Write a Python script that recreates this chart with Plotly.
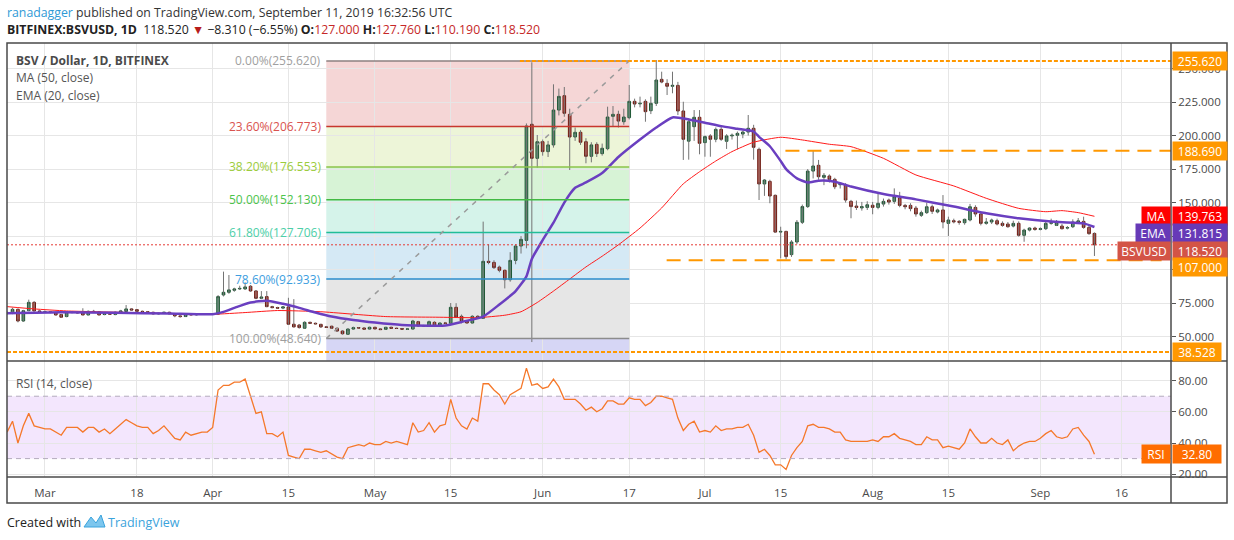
import plotly.graph_objects as go
import pandas as pd

# BITFINEX:BSVUSD daily candles (first candle 2019-02-22)
first_day = "2019-02-22"

opens = [
    67.5, 67.4, 70.4, 61.7, 69.4, 75.6, 69.2, 68.5, 68.6, 68.0,
    66.5, 65.0, 68.4, 68.0, 68.2, 66.2, 68.9, 68.5, 66.5, 67.0,
    66.5, 68.2, 68.8, 70.7, 70.2, 68.9, 68.6, 68.2, 67.0, 67.4,
    68.2, 67.0, 65.5, 65.0, 66.9, 66.3, 66.8, 66.9, 66.7, 66.8,
    81.1, 83.1, 84.6, 85.6, 85.6, 87.6, 84.1, 78.6, 79.9, 72.4,
    71.7, 71.3, 72.2, 59.3, 58.7, 56.3, 60.7, 60.0, 59.2, 57.3,
    57.8, 56.3, 54.2, 51.8, 55.7, 56.7, 56.5, 55.7, 57.0, 55.8,
    55.5, 57.0, 56.3, 56.1, 55.6, 55.7, 61.2, 58.0, 58.2, 60.7,
    57.7, 60.2, 60.0, 71.9, 65.2, 61.7, 60.2, 65.2, 63.7, 106.2,
    105.4, 101.9, 99.5, 92.5, 106.9, 117.6, 121.8, 208.4, 183.0, 195.4,
    188.0, 193.0, 219.0, 229.7, 215.8, 198.9, 202.4, 195.4, 184.5, 193.4,
    186.5, 190.2, 214.3, 215.8, 210.3, 213.3, 225.5, 223.6, 225.5, 218.5,
    224.0, 241.9, 238.9, 236.7, 237.4, 218.3, 195.8, 206.6, 213.6, 194.7,
    199.7, 197.2, 204.6, 195.7, 199.7, 200.2, 201.1, 202.6, 205.4, 189.7,
    163.9, 165.8, 155.4, 128.0, 128.5, 111.2, 120.6, 135.3, 147.0, 173.5,
    177.8, 168.8, 169.8, 167.3, 163.3, 163.3, 150.9, 147.4, 146.0, 146.4,
    148.0, 146.4, 148.9, 151.9, 150.9, 153.4, 147.9, 147.9, 145.9, 140.5,
    142.5, 146.9, 143.0, 144.5, 134.5, 136.5, 136.0, 135.0, 137.0, 146.4,
    141.5, 134.5, 135.5, 136.5, 134.5, 134.0, 132.5, 134.5, 125.6, 129.5,
    131.0, 130.0, 130.5, 134.5, 133.0, 132.5, 131.0, 132.0, 135.5, 136.0,
    131.5, 127.0,
]
highs = [
    69.0, 71.5, 71.0, 70.0, 77.6, 76.5, 69.8, 69.5, 69.0, 68.5,
    67.0, 68.8, 69.0, 68.5, 71.2, 69.5, 70.0, 69.0, 67.5, 67.5,
    68.8, 70.0, 73.6, 71.2, 70.6, 69.5, 69.0, 68.6, 67.8, 68.5,
    68.6, 67.3, 66.0, 67.5, 67.3, 67.2, 67.3, 67.5, 67.5, 81.0,
    98.5, 96.0, 86.5, 88.0, 90.5, 88.5, 84.8, 84.0, 84.0, 73.0,
    72.3, 72.5, 79.0, 78.0, 59.5, 61.5, 61.2, 60.5, 59.6, 58.0,
    58.2, 56.8, 54.8, 56.2, 57.5, 57.2, 57.0, 57.5, 57.4, 56.3,
    57.3, 57.5, 56.8, 56.5, 56.0, 62.5, 61.8, 58.8, 62.0, 61.5,
    60.6, 61.0, 75.1, 75.0, 66.5, 62.2, 66.0, 66.0, 135.8, 118.9,
    107.0, 103.0, 100.0, 113.0, 119.0, 125.0, 209.0, 254.6, 200.4, 197.0,
    196.0, 238.2, 235.0, 236.2, 220.0, 206.0, 204.0, 198.0, 195.0, 195.0,
    194.0, 221.5, 222.0, 218.5, 220.0, 237.7, 227.5, 229.0, 227.0, 229.0,
    256.3, 247.6, 242.0, 247.6, 240.0, 225.2, 213.0, 219.0, 219.0, 200.0,
    201.0, 206.0, 206.5, 201.0, 201.5, 203.0, 203.5, 215.3, 208.0, 191.0,
    167.5, 167.0, 156.0, 132.0, 129.0, 122.0, 137.0, 148.5, 175.0, 189.2,
    181.8, 172.0, 171.0, 168.5, 165.0, 164.5, 152.0, 151.5, 150.5, 151.0,
    150.5, 157.4, 153.0, 153.0, 160.6, 158.0, 149.0, 149.5, 147.5, 144.0,
    150.0, 148.5, 145.5, 155.6, 139.5, 138.0, 137.0, 138.0, 149.0, 148.0,
    143.0, 138.5, 138.0, 138.0, 136.0, 135.5, 136.5, 136.0, 130.5, 131.5,
    132.0, 131.5, 135.5, 138.0, 137.0, 134.0, 132.5, 137.5, 138.5, 139.5,
    133.0, 127.76,
]
lows = [
    66.5, 66.8, 60.7, 61.0, 69.0, 68.8, 68.0, 67.8, 67.5, 65.8,
    64.0, 64.5, 67.5, 67.2, 66.0, 66.0, 68.0, 66.0, 66.0, 66.3,
    66.0, 67.5, 68.5, 69.5, 68.5, 68.0, 67.8, 66.5, 66.5, 67.0,
    66.8, 64.5, 64.2, 64.8, 66.0, 65.8, 66.2, 66.4, 66.2, 66.5,
    80.0, 82.0, 83.5, 84.8, 85.0, 83.5, 78.0, 78.0, 72.0, 71.2,
    71.0, 70.5, 58.8, 56.8, 56.0, 56.0, 59.5, 59.2, 56.5, 56.6,
    55.8, 53.5, 51.5, 51.5, 55.2, 56.0, 55.2, 55.3, 55.5, 55.0,
    55.2, 56.0, 55.8, 55.3, 55.0, 55.3, 57.5, 57.4, 57.8, 57.2,
    57.3, 59.5, 59.5, 64.3, 60.0, 59.8, 59.8, 63.2, 63.2, 104.0,
    100.5, 98.0, 86.0, 91.0, 104.0, 112.0, 115.9, 46.0, 176.0, 185.0,
    184.0, 191.0, 215.0, 214.0, 174.3, 196.0, 193.0, 179.3, 180.0, 184.0,
    185.0, 189.0, 207.0, 206.0, 208.0, 212.0, 221.0, 221.0, 210.3, 216.0,
    222.0, 239.0, 230.2, 231.5, 215.3, 181.8, 182.0, 196.0, 186.0, 184.2,
    184.2, 195.0, 196.0, 190.0, 197.0, 189.7, 198.0, 200.0, 182.0, 151.9,
    155.0, 149.5, 127.5, 108.4, 107.7, 109.5, 119.0, 134.0, 146.0, 168.0,
    167.0, 163.0, 165.0, 160.0, 160.5, 150.0, 138.3, 144.5, 144.0, 144.5,
    141.3, 145.0, 147.0, 148.5, 149.0, 146.5, 145.0, 143.5, 139.5, 139.3,
    141.5, 141.5, 142.0, 130.8, 125.1, 134.5, 133.5, 133.5, 136.0, 139.5,
    133.0, 133.5, 134.0, 133.0, 132.0, 131.3, 131.5, 124.6, 120.8, 128.5,
    129.0, 129.3, 129.5, 133.5, 132.5, 130.0, 130.0, 131.0, 134.5, 130.5,
    126.0, 110.19,
]
closes = [
    68.0, 70.4, 61.7, 69.4, 75.6, 69.2, 68.5, 68.6, 68.0, 66.2,
    64.5, 68.4, 68.0, 67.8, 66.2, 68.9, 68.5, 66.2, 67.0, 66.8,
    68.2, 69.2, 70.7, 69.9, 68.9, 68.6, 68.2, 67.0, 67.4, 68.2,
    67.0, 65.5, 65.0, 66.9, 66.3, 66.8, 66.9, 66.7, 67.1, 79.9,
    83.1, 84.9, 85.6, 86.0, 87.1, 84.1, 78.6, 79.6, 72.4, 71.7,
    71.3, 72.2, 59.3, 57.3, 56.8, 60.7, 60.0, 59.6, 57.3, 57.0,
    56.3, 54.2, 52.2, 55.7, 56.7, 56.5, 55.6, 57.0, 55.8, 55.3,
    57.0, 56.3, 56.1, 55.6, 55.7, 61.7, 58.0, 58.2, 61.2, 57.7,
    60.2, 60.0, 71.9, 64.7, 61.7, 60.2, 65.2, 63.7, 106.2, 105.4,
    101.5, 99.5, 92.5, 106.9, 117.6, 122.6, 207.1, 183.0, 195.4, 188.0,
    193.0, 219.0, 229.2, 216.6, 198.9, 202.4, 195.0, 184.5, 193.0, 186.5,
    190.5, 213.8, 215.8, 210.8, 213.8, 225.5, 223.5, 224.0, 217.8, 224.0,
    241.4, 239.9, 236.7, 237.4, 218.3, 197.2, 210.3, 213.6, 194.2, 199.2,
    197.2, 204.6, 197.2, 199.7, 200.2, 201.6, 202.6, 205.4, 191.2, 163.9,
    166.8, 154.9, 128.0, 128.5, 109.7, 120.6, 135.3, 147.0, 173.5, 177.3,
    169.3, 170.3, 167.3, 161.8, 164.0, 151.9, 147.0, 146.4, 147.0, 148.4,
    146.4, 149.4, 150.9, 150.4, 154.4, 147.9, 146.9, 145.5, 141.5, 142.5,
    146.9, 143.5, 144.5, 135.5, 137.0, 135.7, 135.3, 137.5, 146.9, 141.5,
    134.5, 135.5, 137.0, 134.0, 133.0, 132.0, 134.5, 125.6, 129.5, 131.0,
    130.0, 130.5, 134.5, 135.0, 135.5, 130.5, 131.3, 135.5, 136.3, 131.5,
    126.83, 118.52,
]

# RSI (14, close), one value per candle
rsi = [
    47, 54, 40, 51, 59, 51, 50, 49, 49, 47,
    45, 50, 50, 50, 47, 50, 50, 47, 49, 46,
    49, 52, 55, 53, 51, 50, 50, 46, 48, 51,
    47, 43, 42, 47, 45, 46, 47, 47, 50, 74,
    77, 77, 79, 79, 81, 70, 59, 60, 46, 46,
    44, 47, 32, 31, 30, 36, 36, 35, 34, 35,
    33, 31, 30, 37, 38, 39, 38, 40, 39, 39,
    41, 40, 41, 40, 39, 53, 47, 48, 53, 47,
    51, 52, 68, 56, 51, 49, 56, 54, 78, 78,
    74, 71, 65, 71, 73, 75, 88, 77, 78, 75,
    76, 81, 76, 68, 68, 68, 65, 61, 63, 60,
    62, 67, 67, 65, 65, 69, 68, 68, 64, 66,
    70, 70, 69, 68, 56, 48, 52, 54, 47, 48,
    47, 51, 48, 49, 49, 50, 50, 52, 45, 34,
    36, 32, 26, 26, 23, 32, 37, 41, 51, 52,
    50, 50, 49, 47, 47, 42, 41, 41, 41, 41,
    42, 41, 44, 44, 46, 43, 42, 41, 39, 39,
    44, 42, 42, 37, 38, 37, 36, 40, 49, 44,
    40, 40, 43, 40, 39, 42, 35, 38, 40, 41,
    41, 43, 46, 48, 44, 43, 44, 49, 50, 45,
    41, 32.80,
]

# MA(50) and EMA(20) read at some candles (candle index, value)
ma_idx = [0, 5, 11, 23, 38, 44, 50, 58, 70, 80, 87, 92, 95, 98, 101, 104, 107, 110,
          113, 117, 121, 125, 128, 131, 134, 138, 143, 147, 152, 156, 162, 168, 175,
          181, 187, 192, 195, 198, 201]
ma_vals = [72.4, 70.7, 69.2, 68.0, 66.7, 68.0, 69.5, 68.6, 65.0, 64.5, 64.2, 66.0, 68.6,
           75.5, 84.0, 93.0, 102.0, 110.0, 118.5, 131.0, 146.0, 164.0, 173.0, 181.0,
           188.0, 195.0, 198.7, 196.7, 193.5, 191.7, 183.0, 170.6, 162.4, 153.2, 145.7,
           143.2, 144.0, 142.5, 139.763]
ema_idx = [0, 10, 20, 30, 38, 40, 42, 45, 48, 51, 54, 57, 60, 64, 68, 73, 78, 81, 84,
           88, 91, 94, 96, 97, 99, 101, 103, 105, 107, 110, 113, 117, 120, 123, 126,
           129, 132, 135, 138, 139, 141, 143, 144, 146, 148, 150, 153, 156, 162, 168,
           175, 181, 187, 193, 199, 201]
ema_vals = [67.5, 68.3, 67.8, 67.3, 66.8, 68.5, 71.5, 75.5, 76.8, 74.5, 71.5, 68.0, 65.0,
            62.4, 60.5, 58.7, 58.2, 58.3, 61.0, 65.0, 74.0, 84.0, 95.0, 108.0, 122.0,
            135.0, 150.0, 161.0, 165.0, 172.0, 184.0, 197.0, 206.0, 213.5, 212.0, 209.6,
            207.0, 205.0, 203.0, 199.0, 192.0, 181.0, 175.0, 168.0, 165.0, 166.3, 165.6,
            162.0, 156.4, 152.4, 147.0, 142.0, 138.3, 135.8, 134.5, 131.815]

# fibonacci retracement drawing
fib_start, fib_end = "2019-04-22", "2019-06-17"
fib_names = ["0.00%", "23.60%", "38.20%", "50.00%", "61.80%", "78.60%", "100.00%"]
fib_prices = [255.620, 206.773, 176.553, 152.130, 127.706, 92.933, 48.640]
fib_lines = ["#8c8080", "#c8372d", "#8bc34a", "#43b943", "#22bd97", "#2a8ccc", "#8c8c8c"]
fib_texts = ["#a0a0a0", "#d9534f", "#9ccc3c", "#4cc44c", "#4ccfa8", "#3d9ee0", "#9e9e9e"]
fib_fills = ["#f5d6d6", "#edf5d8", "#d7f3d6", "#d5f3ea", "#d5e9f5", "#e6e6e6", "#d6d6f5"]

# horizontal levels drawn by the author: price, start, end (None = chart edge), dash
levels = [255.620, 188.690, 107.000, 38.528]
level_start = ["2019-05-27 19:00", "2019-07-15 21:00", "2019-06-23 22:00", None]
level_end = [None, None, "2019-09-23 10:00", None]
level_dash = ["4px,2px", "14px,8px", "14px,8px", "4px,2px"]

tick_days = ["2019-03-01", "2019-03-18", "2019-04-01", "2019-04-15", "2019-05-01",
             "2019-05-15", "2019-06-01", "2019-06-17", "2019-07-01", "2019-07-15",
             "2019-08-01", "2019-08-15", "2019-09-01", "2019-09-16"]
tick_text = ["Mar", "18", "Apr", "15", "May", "15", "Jun", "17", "Jul", "15",
             "Aug", "15", "Sep", "16"]
price_ticks = [50, 75, 100, 125, 150, 175, 200, 225, 250]
price_tick_text = ["50.000", "75.000", "", "", "150.000", "175.000", "200.000",
                   "225.000", "250.000"]
rsi_ticks = [20, 40, 60, 80]

x_range = ["2019-02-21 23:30", "2019-09-25 03:40"]
price_range = [32.1, 269.0]
rsi_range = [18.2, 92.6]

FONT = "Open Sans"
GRID = "#e6e6e6"
FRAME = "#4a4a4a"
ORANGE = "#ff9800"

days = pd.date_range(first_day, periods=len(closes), freq="D").strftime("%Y-%m-%d").tolist()


def px_x(px):
    return (px - 7) / 1164.0


def px_y(py):
    return (477 - py) / 434.0


fig = go.Figure()

# wicks in grey, bodies on top
wick_x, wick_y = [], []
for d, lo, hi in zip(days, lows, highs):
    wick_x += [d, d, None]
    wick_y += [lo, hi, None]
fig.add_trace(go.Scatter(x=wick_x, y=wick_y, mode="lines",
                         line=dict(color="#737373", width=1), hoverinfo="skip"))

body_hi = [max(o, c) for o, c in zip(opens, closes)]
body_lo = [min(o, c) for o, c in zip(opens, closes)]
fig.add_trace(go.Candlestick(
    x=days, open=opens, high=body_hi, low=body_lo, close=closes,
    increasing=dict(fillcolor="#559f78", line=dict(color="#1e5634", width=1)),
    decreasing=dict(fillcolor="#d9473a", line=dict(color="#6a1a12", width=1)),
    whiskerwidth=0,
))

fig.add_trace(go.Scatter(x=[days[i] for i in ma_idx], y=ma_vals, mode="lines",
                         line=dict(color="#ff1a1a", width=1, shape="spline", smoothing=0.5)))
fig.add_trace(go.Scatter(x=[days[i] for i in ema_idx], y=ema_vals, mode="lines",
                         line=dict(color="#6a3fc0", width=2.5, shape="spline", smoothing=0.5)))

fig.add_trace(go.Scatter(x=days, y=rsi, mode="lines", xaxis="x2", yaxis="y2",
                         line=dict(color="#f5782a", width=1.3)))

shapes = []
# fib zones and levels
for k in range(len(fib_prices) - 1):
    shapes.append(dict(type="rect", xref="x", yref="y", x0=fib_start, x1=fib_end,
                       y0=fib_prices[k + 1], y1=fib_prices[k], fillcolor=fib_fills[k],
                       line=dict(width=0), layer="below"))
shapes.append(dict(type="rect", xref="x", yref="y", x0=fib_start, x1=fib_end,
                   y0=price_range[0], y1=fib_prices[-1], fillcolor=fib_fills[-1],
                   line=dict(width=0), layer="below"))
for p, c in zip(fib_prices, fib_lines):
    shapes.append(dict(type="line", xref="x", yref="y", x0=fib_start, x1=fib_end,
                       y0=p, y1=p, line=dict(color=c, width=1.5)))
shapes.append(dict(type="line", xref="x", yref="y", x0=fib_start, x1=fib_end,
                   y0=fib_prices[-1], y1=fib_prices[0],
                   line=dict(color="#9a9a9a", width=1.5, dash="5px,6px")))

# author's orange levels
for p, s, e, dsh in zip(levels, level_start, level_end, level_dash):
    shapes.append(dict(type="line", xref="x", yref="y",
                       x0=s if s else x_range[0], x1=e if e else x_range[1],
                       y0=p, y1=p, line=dict(color=ORANGE, width=2, dash=dsh)))

# last price line
shapes.append(dict(type="line", xref="x", yref="y", x0=x_range[0], x1=x_range[1],
                   y0=closes[-1], y1=closes[-1],
                   line=dict(color="#e53935", width=1, dash="2px,2px")))

# RSI band
shapes.append(dict(type="rect", xref="x2", yref="y2", x0=x_range[0], x1=x_range[1],
                   y0=30, y1=70, fillcolor="#f3e6fd", line=dict(width=0), layer="below"))
for lv in (30, 70):
    shapes.append(dict(type="line", xref="x2", yref="y2", x0=x_range[0], x1=x_range[1],
                       y0=lv, y1=lv, line=dict(color="#b3abbd", width=1, dash="5px,4px")))

# frame
frame = dict(color=FRAME, width=1.5)
shapes += [
    dict(type="rect", xref="paper", yref="paper", x0=px_x(7), x1=px_x(1227),
         y0=px_y(503), y1=px_y(43), line=frame),
    dict(type="line", xref="paper", yref="paper", x0=px_x(1171), x1=px_x(1171),
         y0=px_y(503), y1=px_y(43), line=frame),
    dict(type="line", xref="paper", yref="paper", x0=px_x(7), x1=px_x(1227),
         y0=px_y(361), y1=px_y(361), line=frame),
    dict(type="line", xref="paper", yref="paper", x0=px_x(7), x1=px_x(1227),
         y0=px_y(477), y1=px_y(477), line=frame),
]

ann = []
for name, p, c in zip(fib_names, fib_prices, fib_texts):
    ann.append(dict(x=fib_start, y=p, xref="x", yref="y", xanchor="right", yanchor="middle",
                    xshift=-3, showarrow=False, text=f"{name}({p:.3f})",
                    font=dict(family=FONT, size=12, color=c)))


def axis_tag(y, text, color, yref="y", yshift=0, width=52):
    return dict(x=1, y=y, xref="paper", yref=yref, xanchor="left", yanchor="middle",
                xshift=1, yshift=yshift, showarrow=False, text=text, bgcolor=color,
                width=width, height=16, align="center",
                font=dict(family=FONT, size=12, color="white"))


def side_tag(y, text, color, width, yref="y", yshift=0):
    return dict(x=1, y=y, xref="paper", yref=yref, xanchor="right", yanchor="middle",
                xshift=0, yshift=yshift, showarrow=False, text=text, bgcolor=color,
                width=width, height=16, align="center",
                font=dict(family=FONT, size=12, color="white"))


ann += [
    axis_tag(levels[0], f"{levels[0]:.3f}", ORANGE),
    axis_tag(levels[1], f"{levels[1]:.3f}", ORANGE),
    axis_tag(ma_vals[-1], f"{ma_vals[-1]:.3f}", "#ff0000"),
    side_tag(ma_vals[-1], "MA", "#ff0000", 26),
    axis_tag(ema_vals[-1], f"{ema_vals[-1]:.3f}", "#673ab7", yshift=-6),
    side_tag(ema_vals[-1], "EMA", "#673ab7", 32, yshift=-6),
    axis_tag(closes[-1], f"{closes[-1]:.3f}", "#d35446", yshift=-6),
    side_tag(closes[-1], "BSVUSD", "#d35446", 50, yshift=-6),
    axis_tag(levels[2], f"{levels[2]:.3f}", ORANGE, yshift=-7),
    axis_tag(levels[3], f"{levels[3]:.3f}", ORANGE, width=46),
    axis_tag(rsi[-1], f"{rsi[-1]:.2f}", "#ff6d00", yref="y2", width=46),
    side_tag(rsi[-1], "RSI", "#ff6d00", 26, yref="y2"),
]

chg = closes[-1] - closes[-2]
red = "#c62828"
header2 = (f"<b>BITFINEX:BSVUSD, 1D</b>  {closes[-1]:.3f} "
           f"<span style='color:#b71c1c'>▼</span> −{abs(chg):.3f} "
           f"(−{abs(chg) / closes[-2] * 100:.2f}%) "
           f"<b>O:</b><span style='color:{red}'>{opens[-1]:.3f}</span> "
           f"<b>H:</b><span style='color:{red}'>{highs[-1]:.3f}</span> "
           f"<b>L:</b><span style='color:{red}'>{lows[-1]:.3f}</span> "
           f"<b>C:</b><span style='color:{red}'>{closes[-1]:.3f}</span>")

ann += [
    dict(x=px_x(5), y=px_y(12), xref="paper", yref="paper", xanchor="left", yanchor="middle",
         showarrow=False,
         text="<span style='color:#2f9ad6'>ranadagger</span> published on TradingView.com, "
              "September 11, 2019 16:32:56 UTC",
         font=dict(family=FONT, size=12.3, color="#333333")),
    dict(x=px_x(5), y=px_y(30), xref="paper", yref="paper", xanchor="left", yanchor="middle",
         showarrow=False, text=header2, font=dict(family=FONT, size=12.3, color="#222222")),
    dict(x=px_x(14), y=px_y(60), xref="paper", yref="paper", xanchor="left", yanchor="middle",
         showarrow=False, text="<b>BSV / Dollar, 1D, BITFINEX</b>",
         font=dict(family=FONT, size=12, color="#4a4a4a")),
    dict(x=px_x(14), y=px_y(77), xref="paper", yref="paper", xanchor="left", yanchor="middle",
         showarrow=False, text="MA (50, close)", font=dict(family=FONT, size=12, color="#555555")),
    dict(x=px_x(14), y=px_y(95), xref="paper", yref="paper", xanchor="left", yanchor="middle",
         showarrow=False, text="EMA (20, close)", font=dict(family=FONT, size=12, color="#555555")),
    dict(x=px_x(14), y=px_y(383), xref="paper", yref="paper", xanchor="left", yanchor="middle",
         showarrow=False, text="RSI (14, close)", font=dict(family=FONT, size=12, color="#555555")),
    dict(x=px_x(5), y=px_y(522), xref="paper", yref="paper", xanchor="left", yanchor="middle",
         showarrow=False, text="Created with", font=dict(family=FONT, size=12.5, color="#222222")),
    dict(x=px_x(106), y=px_y(522), xref="paper", yref="paper", xanchor="left", yanchor="middle",
         showarrow=False, text="TradingView", font=dict(family=FONT, size=12.5, color="#3aa3dc")),
]

# little cloud logo next to "Created with"
shapes.append(dict(type="path", xref="paper", yref="paper",
                   path=f"M {px_x(84)} {px_y(527)} L {px_x(91)} {px_y(517)} L {px_x(96)} {px_y(523)} "
                        f"L {px_x(101)} {px_y(515)} L {px_x(105)} {px_y(527)} Z",
                   fillcolor="#7cc6ee", line=dict(color="#3aa3dc", width=1)))

tickfont = dict(family=FONT, size=11.5, color="#4a4a4a")
fig.update_layout(
    width=1234, height=540,
    margin=dict(l=7, r=63, t=43, b=63),
    paper_bgcolor="white", plot_bgcolor="white",
    showlegend=False,
    shapes=shapes, annotations=ann,
    xaxis=dict(domain=[0, 1], anchor="y", type="date", range=x_range,
               tickvals=tick_days, showticklabels=False, showgrid=True, gridcolor=GRID,
               zeroline=False, showline=False, rangeslider=dict(visible=False)),
    yaxis=dict(domain=[0.268, 1], anchor="x", side="right", range=price_range,
               tickvals=price_ticks, ticktext=price_tick_text, showgrid=True, gridcolor=GRID,
               zeroline=False, ticks="outside", ticklen=4, tickcolor="#555555",
               tickfont=tickfont),
    xaxis2=dict(domain=[0, 1], anchor="y2", type="date", range=x_range, matches="x",
                tickvals=tick_days, ticktext=tick_text, showgrid=True, gridcolor=GRID,
                zeroline=False, showline=False, ticks="outside", ticklen=5,
                tickcolor="rgba(0,0,0,0)", tickfont=tickfont),
    yaxis2=dict(domain=[0, 0.2673], anchor="x2", side="right", range=rsi_range,
                tickvals=rsi_ticks, tickformat=".2f", showgrid=True, gridcolor=GRID,
                zeroline=False, ticks="outside", ticklen=4, tickcolor="#555555",
                tickfont=tickfont),
)

# the page's default 8px body margin would shift the whole figure
fig.write_html("out.html", config={"displayModeBar": False},
               post_script="document.body.style.margin = '0';")
